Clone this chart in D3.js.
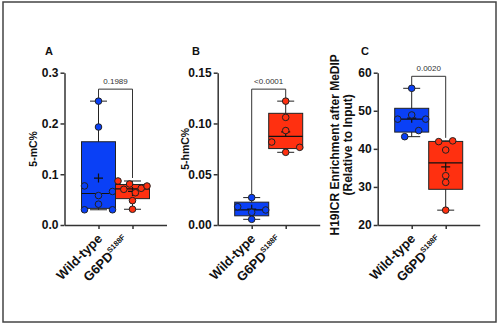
<!DOCTYPE html>
<html>
<head>
<meta charset="utf-8">
<script src="https://cdn.jsdelivr.net/npm/d3@7"></script>
<style>
  body { margin: 0; background: #fff; }
  text { font-family: 'Liberation Sans', Arial, sans-serif; }
</style>
</head>
<body>
<script>
// groups on the x axis
const categories = ['Wild-type', 'G6PD']
const mutantSup = 'S188F'

// panel A : 5-mC%
const wtA  = [0.244, 0.193, 0.077, 0.058, 0.066, 0.030, 0.041, 0.030]
const mutA = [0.0867, 0.0703, 0.0808, 0.0636, 0.0723, 0.0768, 0.048, 0.031]
// panel B : 5-hmC%
const wtB  = [0.027, 0.018, 0.0125, 0.0148, 0.0056]
const mutB = [0.122, 0.106, 0.093, 0.0817, 0.0716, 0.0765]
// panel C : H19ICR enrichment
const wtC  = [55.9, 47.8, 48.9, 47.8, 43.2, 44.8]
const mutC = [41.9, 42.1, 39.7, 32.95, 31.2, 23.9]

const pValues = ['0.1989', '<0.0001', '0.0020']
const letters = ['A', 'B', 'C']
const yTitles = [['5-mC%'], ['5-hmC%'], ['H19ICR Enrichment after MeDIP', '(Relative to Input)']]
const ticksA = [0, 0.1, 0.2, 0.3]
const ticksB = [0, 0.05, 0.10, 0.15]
const ticksC = [20, 30, 40, 50, 60]

const colors = ['#0a40f6', '#ff3010']

const panels = [
  {left: 64.5, letterX: 45, domain: [0, 0.3], ticks: ticksA, fmt: '.1f', data: [wtA, mutA], titleX: [-28]},
  {left: 217.7, letterX: 192, domain: [0, 0.15], ticks: ticksB, fmt: '.2f', data: [wtB, mutB], titleX: [-29]},
  {left: 377.7, letterX: 361, domain: [20, 60], ticks: ticksC, fmt: 'd', data: [wtC, mutC], titleX: [-39, -26]}
]
const plotW = 102, yTop = 72.7, yBot = 225
// where the rotated x labels hang from, relative to their tick
const labelAnchor = [[4.5, 14.4], [-3, 16.5]]

const svg = d3.select('body').append('svg').attr('width', 500).attr('height', 325)

svg.append('rect')
  .attr('x', 3).attr('y', 2).attr('width', 493).attr('height', 320)
  .attr('fill', 'none').attr('stroke', '#444').attr('stroke-width', 1.5)

// quartiles the Prism way: position p*(n+1)
const boxStats = (vals) => {
  const s = vals.slice().sort((a, b) => a - b)
  const n = s.length
  const q = (p) => {
    let pos = Math.min(Math.max(p * (n + 1), 1), n)
    const lo = Math.floor(pos), fr = pos - lo
    return lo >= n ? s[n - 1] : s[lo - 1] + fr * (s[lo] - s[lo - 1])
  }
  return {min: s[0], max: s[n - 1], q1: q(0.25), med: q(0.5), q3: q(0.75), mean: d3.mean(s)}
}

// points close in y share a row and get spread sideways, in data order
const spread = (vals, y) => {
  const idx = vals.map((v, i) => i).sort((a, b) => y(vals[b]) - y(vals[a]))
  const rows = []
  let prev = null
  idx.forEach(i => {
    const py = y(vals[i])
    if (prev === null || Math.abs(py - prev) > 6.5) rows.push([])
    rows[rows.length - 1].push(i)
    prev = py
  })
  const off = new Array(vals.length).fill(0)
  rows.forEach(r => {
    r.sort((a, b) => a - b)
    const k = r.length
    const s = k > 1 ? Math.min(14, 29 / (k - 1)) : 0
    r.forEach((i, j) => { off[i] = (j - (k - 1) / 2) * s })
  })
  return off
}

panels.forEach((p, pi) => {
  const g = svg.append('g').attr('transform', `translate(${p.left},0)`)
  const y = d3.scaleLinear().domain(p.domain).range([yBot, yTop])
  const x = d3.scalePoint().domain(categories).range([0, plotW]).padding(1)
  const step = x.step()

  // axes
  const yAxis = g.append('g')
    .call(d3.axisLeft(y).tickValues(p.ticks).tickFormat(d3.format(p.fmt)).tickSize(4).tickSizeOuter(0).tickPadding(2))
  const xAxis = g.append('g').attr('transform', `translate(0,${yBot})`)
    .call(d3.axisBottom(x).tickSize(4).tickSizeOuter(0).tickFormat(''))
  ;[yAxis, xAxis].forEach(a => {
    a.selectAll('path, line').attr('stroke', '#333').attr('stroke-width', 1.5)
  })
  yAxis.selectAll('text').attr('fill', '#111').style('font-size', '12px').style('font-weight', 'bold')

  // x labels
  categories.forEach((c, ci) => {
    const [ax, ay] = labelAnchor[ci]
    const t = g.append('text')
      .attr('transform', `translate(${x(c) + ax},${yBot + ay}) rotate(-45)`)
      .attr('text-anchor', 'end')
      .attr('fill', '#111').style('font-size', '13px').style('font-weight', 'bold')
    t.append('tspan').text(c)
    if (ci === 1) t.append('tspan').attr('dy', -5.5).style('font-size', '7.5px').text(mutantSup)
  })

  // y title
  yTitles[pi].forEach((line, li) => {
    g.append('text')
      .attr('transform', `translate(${p.titleX[li]},${(yTop + yBot) / 2 - (pi === 2 ? 4 : 0)}) rotate(-90)`)
      .attr('text-anchor', 'middle')
      .attr('fill', '#111')
      .style('font-size', pi === 2 ? '12px' : '10.5px').style('font-weight', 'bold')
      .text(line)
  })

  svg.append('text').attr('x', p.letterX).attr('y', 55)
    .attr('fill', '#111').style('font-size', '11px').style('font-weight', 'bold')
    .text(letters[pi])

  // boxes
  const stats = p.data.map(boxStats)
  p.data.forEach((vals, gi) => {
    const st = stats[gi]
    const cx = x(categories[gi])
    const bg = g.append('g')
    bg.append('line').attr('x1', cx).attr('x2', cx).attr('y1', y(st.max)).attr('y2', y(st.min))
      .attr('stroke', '#222').attr('stroke-width', 1)
    ;[st.max, st.min].forEach(v => {
      bg.append('line').attr('x1', cx - step / 4).attr('x2', cx + step / 4)
        .attr('y1', y(v)).attr('y2', y(v)).attr('stroke', '#222').attr('stroke-width', 1)
    })
    bg.append('rect').attr('x', cx - step / 2).attr('width', step)
      .attr('y', y(st.q3)).attr('height', y(st.q1) - y(st.q3))
      .attr('fill', colors[gi]).attr('stroke', '#222').attr('stroke-width', 1)
    bg.append('line').attr('x1', cx - step / 2).attr('x2', cx + step / 2)
      .attr('y1', y(st.med)).attr('y2', y(st.med)).attr('stroke', '#111').attr('stroke-width', 1.2)
    bg.append('path')
      .attr('d', `M${cx - 4.5},${y(st.mean)}h9M${cx},${y(st.mean) - 4.5}v9`)
      .attr('stroke', '#111').attr('stroke-width', 1.2)

    const off = spread(vals, y)
    bg.selectAll('circle').data(vals).enter().append('circle')
      .attr('cx', (d, i) => cx + off[i])
      .attr('cy', d => y(d))
      .attr('r', 3.3)
      .attr('fill', colors[gi]).attr('stroke', '#222').attr('stroke-width', 1)
  })

  // significance bracket
  const tops = stats.map(s => y(s.max))
  const top = Math.min(...tops) - 12
  const x0 = x(categories[0]), x1 = x(categories[1])
  g.append('path')
    .attr('d', `M${x0},${tops[0] - 3}V${top}H${x1}V${tops[1] - 3}`)
    .attr('fill', 'none').attr('stroke', '#333').attr('stroke-width', 1)
  g.append('text').attr('x', (x0 + x1) / 2).attr('y', top - 5)
    .attr('text-anchor', 'middle').attr('fill', '#333')
    .style('font-size', '8px')
    .text(pValues[pi])
})
</script>
</body>
</html>
